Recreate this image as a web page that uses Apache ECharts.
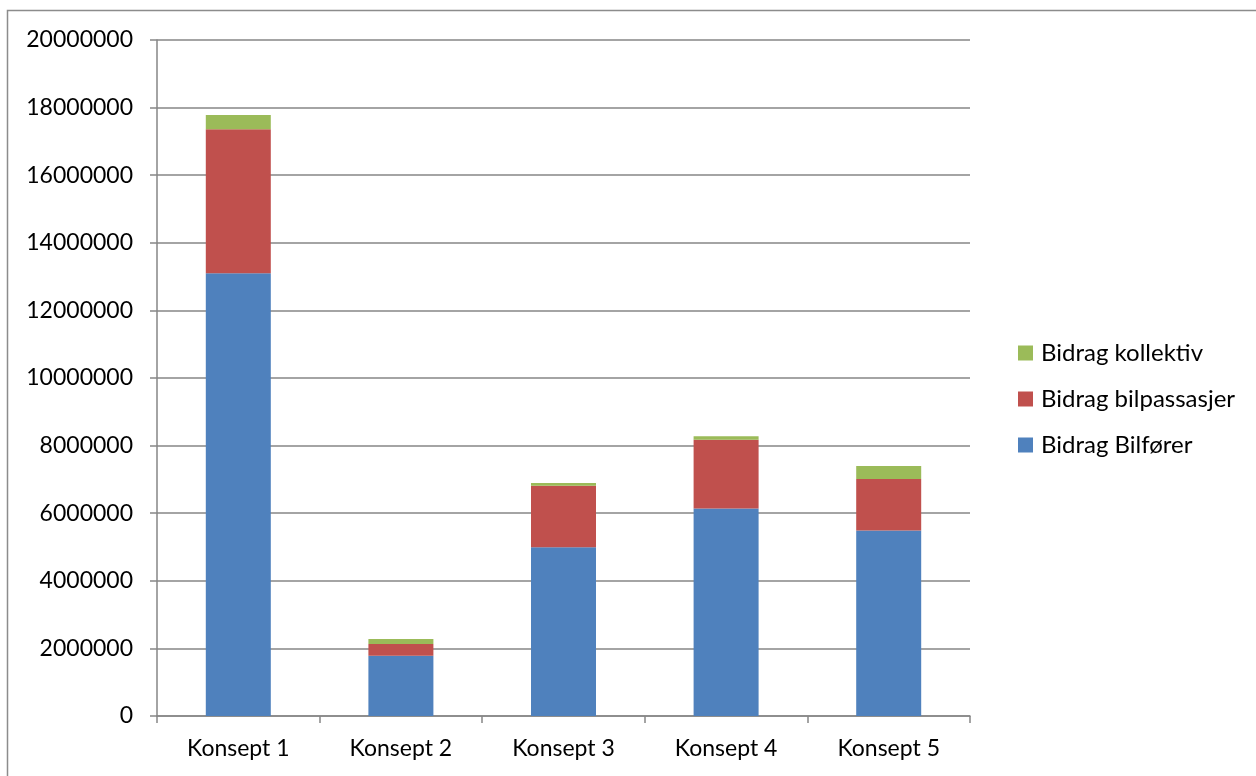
<!DOCTYPE html>
<html>
<head>
<meta charset="utf-8">
<script src="https://cdn.jsdelivr.net/npm/echarts@6/dist/echarts.min.js"></script>
<style>
  html, body { margin: 0; padding: 0; background: #fff; }
  #chart { width: 1256px; height: 776px; }
</style>
</head>
<body>
<div id="chart"></div>
<script>
// kategorier og verdier lest av figuren
const categories = ['Konsept 1', 'Konsept 2', 'Konsept 3', 'Konsept 4', 'Konsept 5']
const bilforer = [13100000, 1780000, 4990000, 6140000, 5490000]
const bilpassasjer = [4260000, 350000, 1820000, 2030000, 1520000]
const kollektiv = [420000, 150000, 80000, 110000, 390000]
const seriesNames = ['Bidrag Bilfører', 'Bidrag bilpassasjer', 'Bidrag kollektiv']

const chart = echarts.init(document.getElementById('chart'))
const font = 'Lato, "Open Sans", sans-serif'

const option = {
  animation: false,
  textStyle: { fontFamily: font },
  graphic: [{
    type: 'rect',
    shape: { x: 7.5, y: 10.5, width: 1270, height: 800 },
    style: { fill: 'none', stroke: '#8c8c8c', lineWidth: 1.5 },
    silent: true
  }],
  grid: { left: 157, right: 286, top: 40, bottom: 60 },
  legend: {
    orient: 'vertical',
    left: 1013,
    top: 336,
    itemWidth: 15,
    itemHeight: 15,
    itemGap: 22,
    icon: 'rect',
    data: [seriesNames[2], seriesNames[1], seriesNames[0]],
    textStyle: { fontSize: 24, color: '#000', fontFamily: font, lineHeight: 22, padding: [0, 0, 0, 3] }
  },
  xAxis: {
    type: 'category',
    data: categories,
    axisLine: { lineStyle: { color: '#868686', width: 1.5 } },
    axisTick: { show: true, length: 7, lineStyle: { color: '#868686', width: 1.5 } },
    axisLabel: { fontSize: 23, color: '#000', margin: 21, fontFamily: font }
  },
  yAxis: {
    type: 'value',
    min: 0,
    max: 20000000,
    interval: 2000000,
    axisLine: { show: true, lineStyle: { color: '#868686', width: 1.5 } },
    axisTick: { show: true, length: 7, lineStyle: { color: '#868686', width: 1.5 } },
    splitLine: { lineStyle: { color: '#868686', width: 1.5 } },
    axisLabel: { fontSize: 23, color: '#000', margin: 24, fontFamily: font, formatter: v => String(v) }
  },
  series: [
    { name: seriesNames[0], type: 'bar', stack: 'total', barWidth: 65, itemStyle: { color: '#4F81BD' }, data: bilforer },
    { name: seriesNames[1], type: 'bar', stack: 'total', barWidth: 65, itemStyle: { color: '#C0504D' }, data: bilpassasjer },
    { name: seriesNames[2], type: 'bar', stack: 'total', barWidth: 65, itemStyle: { color: '#9BBB59' }, data: kollektiv }
  ]
}

chart.setOption(option)
</script>
</body>
</html>
